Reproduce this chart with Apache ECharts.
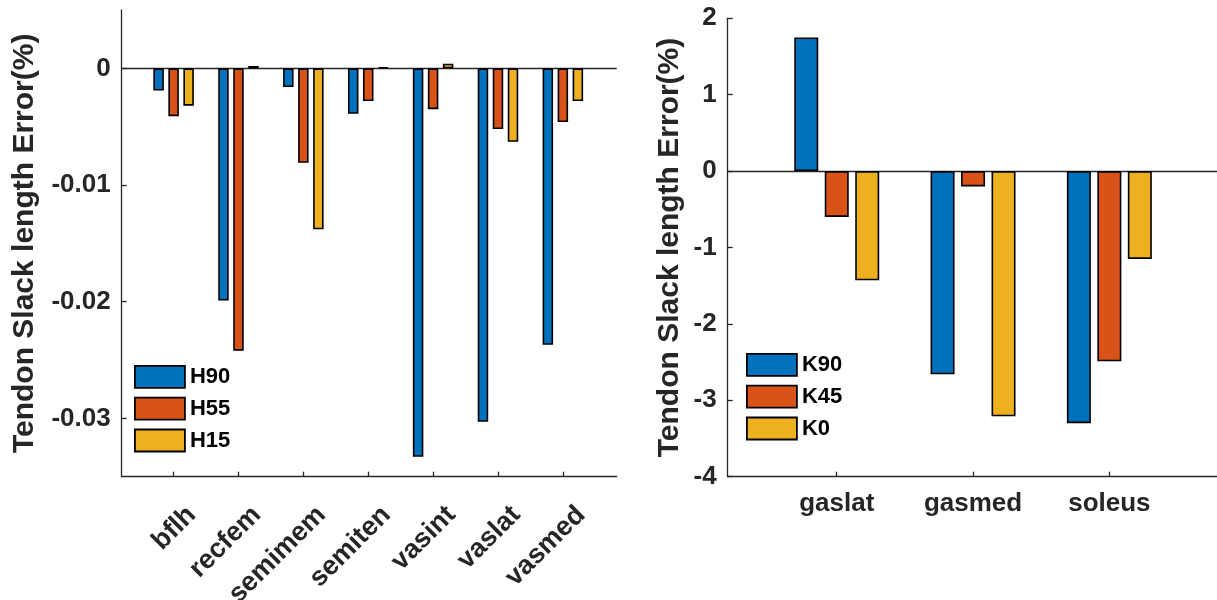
<!DOCTYPE html>
<html>
<head>
<meta charset="utf-8">
<script src="https://cdn.jsdelivr.net/npm/echarts@6/dist/echarts.min.js"></script>
<style>html,body{margin:0;padding:0;background:#fff}#c{width:1217px;height:600px}</style>
</head>
<body>
<div id="c"></div>
<script>
// ---- data ----
const leftCats = ['bflh', 'recfem', 'semimem', 'semiten', 'vasint', 'vaslat', 'vasmed'];
const H90 = [-0.0019, -0.0199, -0.0016, -0.0039, -0.0333, -0.0303, -0.0237];
const H55 = [-0.0041, -0.0242, -0.0081, -0.0028, -0.0035, -0.0052, -0.0046];
const H15 = [-0.0032, 0.0002, -0.0138, 0.0001, 0.0004, -0.0063, -0.0028];
const leftYTicks = [-0.03, -0.02, -0.01, 0];

const rightCats = ['gaslat', 'gasmed', 'soleus'];
const K90 = [1.75, -2.66, -3.30];
const K45 = [-0.60, -0.20, -2.49];
const K0 = [-1.43, -3.21, -1.15];
const rightYTicks = [-4, -3, -2, -1, 0, 1, 2];

const yTitle = 'Tendon Slack length Error(%)';
// --------------

const FONT = '"Liberation Sans", Arial, sans-serif';
const AX = '#262626';
const COLORS = ['#0072BD', '#D95319', '#EDB120'];
const LABEL_SHIFT = 0.28;

const chart = echarts.init(document.getElementById('c'), null, {renderer: 'canvas'});

function pos(cats) { return cats.map((c, i) => i + 1); }
function pairs(vals) { return vals.map((v, i) => [i + 1, v]); }

function barSeries(name, vals, gi, color, bw, gap, withZero) {
  const s = {
    name: name, type: 'bar', xAxisIndex: gi, yAxisIndex: gi,
    data: pairs(vals), barWidth: bw, barGap: gap,
    itemStyle: {color: color, borderColor: '#000', borderWidth: 1.6},
    emphasis: {disabled: true}
  };
  if (withZero) {
    s.markLine = {
      silent: true, symbol: ['none', 'none'], label: {show: false},
      lineStyle: {color: AX, width: 1.3, type: 'solid'},
      data: [{yAxis: 0}], z: 1
    };
  }
  return s;
}

const tickStyle = {fontFamily: FONT, fontWeight: 'bold', color: AX};

function legendFor(names, left, top) {
  return {
    data: names, orient: 'vertical', left: left, top: top, padding: 0,
    itemWidth: 50, itemHeight: 22, itemGap: 8, icon: 'rect',
    itemStyle: {borderColor: '#000', borderWidth: 1.8},
    textStyle: {fontFamily: FONT, fontWeight: 'bold', fontSize: 22, color: '#000', lineHeight: 22},
    selectedMode: false
  };
}

const option = {
  animation: false,
  backgroundColor: '#fff',
  grid: [
    {left: 121.7, top: 10, width: 495, height: 466.7, containLabel: false, outerBoundsMode: 'none'},
    {left: 727.7, top: 18.3, width: 490.7, height: 458.4, containLabel: false, outerBoundsMode: 'none'}
  ],
  legend: [
    legendFor(['H90', 'H55', 'H15'], 134, 365),
    legendFor(['K90', 'K45', 'K0'], 746, 353)
  ],
  xAxis: [
    {
      type: 'value', gridIndex: 0, min: 0.2, max: 7.83,
      axisLine: {show: true, onZero: false, lineStyle: {color: AX, width: 1.3}},
      axisTick: {show: true, inside: true, length: 5, customValues: pos(leftCats), lineStyle: {color: AX, width: 1.3}},
      axisLabel: Object.assign({
        rotate: 45, margin: 34, fontSize: 27,
        customValues: pos(leftCats).map(v => v + LABEL_SHIFT),
        formatter: v => leftCats[Math.round(v - LABEL_SHIFT) - 1] || ''
      }, tickStyle),
      splitLine: {show: false}
    },
    {
      type: 'value', gridIndex: 1, min: 0.2, max: 3.8,
      axisLine: {show: true, onZero: false, lineStyle: {color: AX, width: 1.3}},
      axisTick: {show: true, inside: true, length: 5, customValues: pos(rightCats), lineStyle: {color: AX, width: 1.3}},
      axisLabel: Object.assign({
        margin: 14, fontSize: 26,
        customValues: pos(rightCats),
        formatter: v => rightCats[Math.round(v) - 1] || ''
      }, tickStyle),
      splitLine: {show: false}
    }
  ],
  yAxis: [
    {
      type: 'value', gridIndex: 0, min: -0.035, max: 0.005,
      name: yTitle, nameLocation: 'middle', nameGap: 82,
      nameTextStyle: {fontFamily: FONT, fontWeight: 'bold', fontSize: 30, color: AX},
      axisLine: {show: true, onZero: false, lineStyle: {color: AX, width: 1.3}},
      axisTick: {show: true, inside: true, length: 5, customValues: leftYTicks, lineStyle: {color: AX, width: 1.3}},
      axisLabel: Object.assign({
        margin: 11, fontSize: 26, customValues: leftYTicks,
        formatter: v => String(v)
      }, tickStyle),
      splitLine: {show: false}
    },
    {
      type: 'value', gridIndex: 1, min: -4, max: 2, interval: 1,
      name: yTitle, nameLocation: 'middle', nameGap: 43,
      nameTextStyle: {fontFamily: FONT, fontWeight: 'bold', fontSize: 30, color: AX},
      axisLine: {show: true, onZero: false, lineStyle: {color: AX, width: 1.3}},
      axisTick: {show: true, inside: true, length: 5, customValues: rightYTicks, lineStyle: {color: AX, width: 1.3}},
      axisLabel: Object.assign({
        margin: 11, fontSize: 26, customValues: rightYTicks,
        formatter: v => String(v)
      }, tickStyle),
      splitLine: {show: false}
    }
  ],
  series: [
    barSeries('H90', H90, 0, COLORS[0], 10.5, '43%', true),
    barSeries('H55', H55, 0, COLORS[1], 10.5, '43%', false),
    barSeries('H15', H15, 0, COLORS[2], 10.5, '43%', false),
    barSeries('K90', K90, 1, COLORS[0], 24, '27%', true),
    barSeries('K45', K45, 1, COLORS[1], 24, '27%', false),
    barSeries('K0', K0, 1, COLORS[2], 24, '27%', false)
  ]
};
chart.setOption(option);
</script>
</body>
</html>
